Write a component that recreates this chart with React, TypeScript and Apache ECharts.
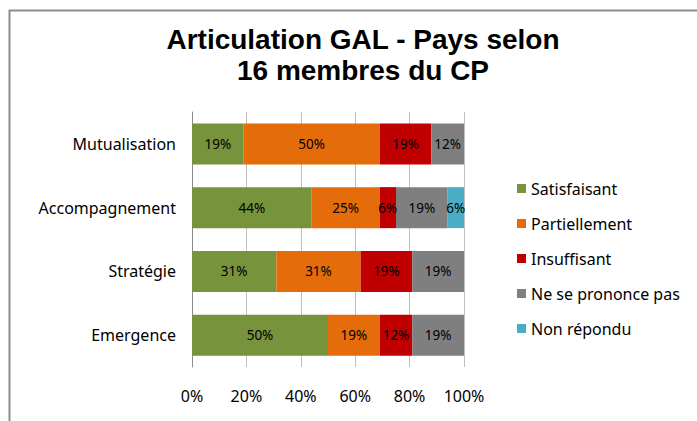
import React, { useEffect, useRef } from "react";
import * as echarts from "echarts";

const categories = ["Mutualisation", "Accompagnement", "Stratégie", "Emergence"];
const seriesNames = ["Satisfaisant", "Partiellement", "Insuffisant", "Ne se prononce pas", "Non répondu"];
const satisfaisant = [19, 44, 31, 50];
const partiellement = [50, 25, 31, 19];
const insuffisant = [19, 6, 19, 12];
const neSePrononcePas = [12, 19, 19, 19];
const nonRepondu = [0, 6, 0, 0];
const xTicks = [0, 20, 40, 60, 80, 100];
const colors = ["#77933C", "#E46C0A", "#C00000", "#7F7F7F", "#4BACC6"];

const FONT = "Noto Sans";

export default function App() {
  const ref = useRef<HTMLDivElement>(null);
  useEffect(() => {
    const chart = echarts.init(ref.current!, null, { renderer: "svg" });
    const values = [satisfaisant, partiellement, insuffisant, neSePrononcePas, nonRepondu];
    chart.setOption({
      animation: false,
      title: {
        text: "Articulation GAL - Pays selon\n16 membres du CP",
        left: 358,
        textAlign: "center",
        top: 19,
        textStyle: {
          fontFamily: "Liberation Sans",
          fontWeight: "bold",
          fontSize: 28,
          lineHeight: 31,
          color: "#000",
        },
      },
      graphic: [
        {
          type: "rect",
          shape: { x: 9.5, y: 10.5, width: 900, height: 600 },
          style: { fill: "none", stroke: "#8c8c8c", lineWidth: 2 },
          silent: true,
        },
      ],
      legend: {
        orient: "vertical",
        left: 512,
        top: 175.5,
        itemWidth: 9,
        itemHeight: 9,
        itemGap: 19,
        icon: "rect",
        data: seriesNames,
        textStyle: { fontFamily: FONT, fontSize: 16, color: "#000", lineHeight: 16, padding: [0, 0, 0, 0] },
      },
      grid: { left: 192, right: 233, top: 112, height: 255, containLabel: false },
      xAxis: {
        type: "value",
        min: 0,
        max: 100,
        interval: 20,
        axisLabel: {
          fontFamily: FONT,
          fontSize: 16,
          color: "#000",
          margin: 21,
          formatter: (v: number) => (xTicks.includes(v) ? v + "%" : ""),
        },
        axisLine: { show: false },
        axisTick: { show: false },
        splitLine: { show: true, lineStyle: { color: "#BFBFBF", width: 1 } },
      },
      yAxis: {
        type: "category",
        data: categories,
        inverse: true,
        axisLabel: { fontFamily: FONT, fontSize: 16, color: "#000", margin: 16 },
        axisLine: { show: true, lineStyle: { color: "#8c8c8c" } },
        axisTick: { show: false },
      },
      series: seriesNames.map((name, i) => ({
        name,
        type: "bar",
        stack: "total",
        barWidth: 41,
        data: values[i],
        itemStyle: { color: colors[i] },
        label: {
          show: true,
          position: "inside",
          fontFamily: FONT,
          fontSize: 13.5,
          color: "#000",
          formatter: (p: any) => (p.value > 0 ? p.value + "%" : ""),
        },
      })),
    });
    return () => chart.dispose();
  }, []);
  return <div ref={ref} style={{ width: 697, height: 421, position: "absolute", left: 0, top: 0 }} />;
}
